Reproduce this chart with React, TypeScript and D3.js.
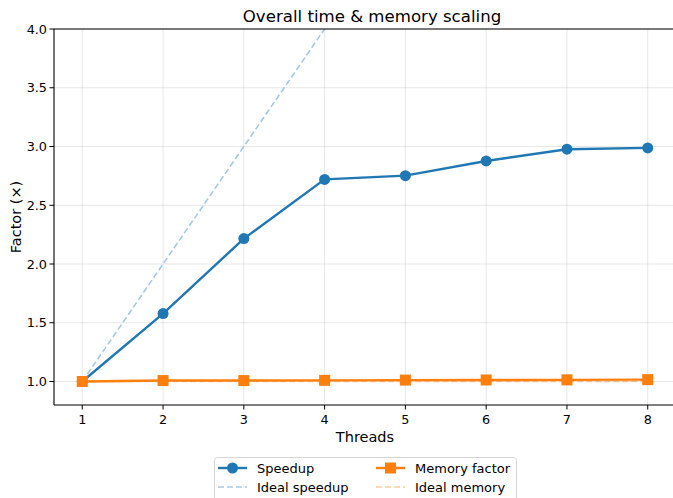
import * as d3 from "d3";

const threads = [1, 2, 3, 4, 5, 6, 7, 8];
const speedup = [1.0, 1.578, 2.216, 2.72, 2.752, 2.877, 2.977, 2.988];
const memoryFactor = [1.0, 1.008, 1.008, 1.01, 1.012, 1.013, 1.014, 1.016];
const idealSpeedup = [1, 2, 3, 4, 5, 6, 7, 8];
const idealMemory = [1, 1, 1, 1, 1, 1, 1, 1];
const yTicks = [1.0, 1.5, 2.0, 2.5, 3.0, 3.5, 4.0];

const W = 673;
const H = 498;
const FONT = "DejaVu Sans, sans-serif";
const BLUE = "#1f77b4";
const ORANGE = "#ff7f0e";

export default function App() {
  const left = 54;
  const top = 29;
  const bottom = 405;
  const x = d3.scaleLinear().domain([0.65, 8.35]).range([left, 676]);
  const y = d3.scaleLinear().domain([0.8, 4.0]).range([bottom, top]);

  const line = (vals: number[]) =>
    d3
      .line<number>()
      .x((_, i) => x(threads[i]))
      .y((v) => y(v))(vals) || "";

  return (
    <svg
      width={W}
      height={H}
      style={{ position: "absolute", left: 0, top: 0, background: "white" }}
      fontFamily={FONT}
    >
      <defs>
        <clipPath id="plot">
          <rect x={left} y={top} width={676 - left} height={bottom - top} />
        </clipPath>
      </defs>
      <rect width={W} height={H} fill="white" />

      {/* grid */}
      {threads.map((t) => (
        <line key={"gx" + t} x1={x(t)} x2={x(t)} y1={top} y2={bottom} stroke="#b0b0b0" strokeOpacity={0.3} strokeWidth={1} />
      ))}
      {yTicks.map((t) => (
        <line key={"gy" + t} x1={left} x2={W} y1={y(t)} y2={y(t)} stroke="#b0b0b0" strokeOpacity={0.3} strokeWidth={1} />
      ))}

      <g clipPath="url(#plot)">
        <path d={line(idealSpeedup)} fill="none" stroke={BLUE} strokeOpacity={0.4} strokeWidth={1.6} strokeDasharray="6,3" />
        <path d={line(idealMemory)} fill="none" stroke={ORANGE} strokeOpacity={0.4} strokeWidth={1.6} strokeDasharray="6,3" />
        <path d={line(speedup)} fill="none" stroke={BLUE} strokeWidth={2.4} />
        {speedup.map((v, i) => (
          <circle key={"s" + i} cx={x(threads[i])} cy={y(v)} r={5.5} fill={BLUE} />
        ))}
        <path d={line(memoryFactor)} fill="none" stroke={ORANGE} strokeWidth={2.4} />
        {memoryFactor.map((v, i) => (
          <rect key={"m" + i} x={x(threads[i]) - 5.5} y={y(v) - 5.5} width={11} height={11} fill={ORANGE} />
        ))}
      </g>

      {/* spines */}
      <line x1={left} x2={W} y1={top} y2={top} stroke="black" strokeWidth={1.1} />
      <line x1={left} x2={W} y1={bottom} y2={bottom} stroke="black" strokeWidth={1.1} />
      <line x1={left} x2={left} y1={top} y2={bottom} stroke="black" strokeWidth={1.1} />

      {/* x ticks */}
      {threads.map((t) => (
        <g key={"xt" + t}>
          <line x1={x(t)} x2={x(t)} y1={bottom} y2={bottom + 4.5} stroke="black" />
          <text x={x(t)} y={bottom + 19} textAnchor="middle" fontSize={12.8} fill="black">
            {t}
          </text>
        </g>
      ))}
      {/* y ticks */}
      {yTicks.map((t) => (
        <g key={"yt" + t}>
          <line x1={left - 4.5} x2={left} y1={y(t)} y2={y(t)} stroke="black" />
          <text x={left - 7} y={y(t) + 4.5} textAnchor="end" fontSize={12.8} fill="black">
            {t.toFixed(1)}
          </text>
        </g>
      ))}

      <text x={365} y={442} textAnchor="middle" fontSize={14.5} fill="black">
        Threads
      </text>
      <text transform={`translate(21,${(top + bottom) / 2}) rotate(-90)`} textAnchor="middle" fontSize={14.5} fill="black">
        Factor (×)
      </text>
      <text x={372} y={22} textAnchor="middle" fontSize={16.6} fill="black">
        Overall time &amp; memory scaling
      </text>

      {/* legend */}
      <g>
        <rect x={214.5} y={457.5} width={302} height={48} rx={3} fill="white" stroke="#d6d6d6" strokeWidth={1} />
        <line x1={218} x2={247} y1={468} y2={468} stroke={BLUE} strokeWidth={2.4} />
        <circle cx={232.5} cy={468} r={5.5} fill={BLUE} />
        <text x={257} y={472.5} fontSize={13} fill="black">Speedup</text>
        <line x1={218} x2={247} y1={487} y2={487} stroke={BLUE} strokeOpacity={0.4} strokeWidth={1.6} strokeDasharray="6,3" />
        <text x={257} y={491.5} fontSize={13} fill="black">Ideal speedup</text>

        <line x1={376} x2={405} y1={468} y2={468} stroke={ORANGE} strokeWidth={2.4} />
        <rect x={385} y={462.5} width={11} height={11} fill={ORANGE} />
        <text x={415} y={472.5} fontSize={13} fill="black">Memory factor</text>
        <line x1={376} x2={405} y1={487} y2={487} stroke={ORANGE} strokeOpacity={0.4} strokeWidth={1.6} strokeDasharray="6,3" />
        <text x={415} y={491.5} fontSize={13} fill="black">Ideal memory</text>
      </g>
    </svg>
  );
}
